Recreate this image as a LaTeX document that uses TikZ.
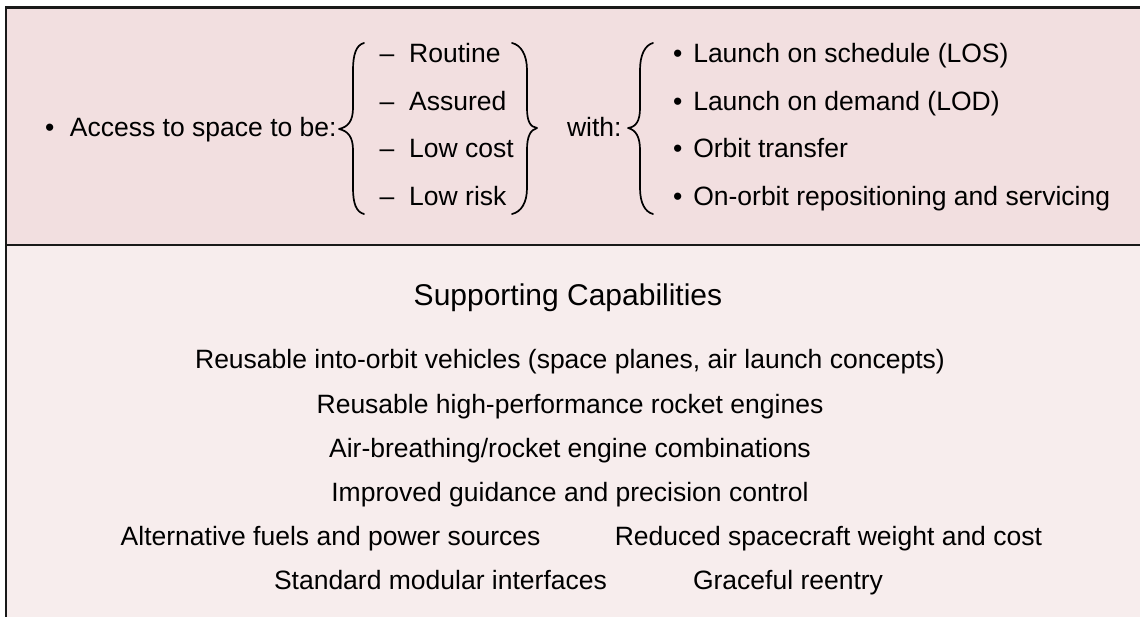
\documentclass[tikz,border=0pt]{standalone}
\usepackage{fontspec}
\setmainfont{Liberation Sans}
\definecolor{topband}{HTML}{F2DFE0}
\definecolor{lowband}{HTML}{F7EDED}
\tikzset{
  txt/.style={inner sep=0pt, outer sep=0pt, font=\fontsize{26.5}{30}\selectfont, text=black},
  lft/.style={txt, anchor=base west},
  ctr/.style={txt, anchor=base},
  heading/.style={inner sep=0pt, outer sep=0pt, anchor=base, font=\fontsize{30}{34}\selectfont},
  frame/.style={line width=2.2pt, draw=black!90},
  brace/.style={line width=1.7pt, draw=black, line cap=round, line join=round}
}
\begin{document}
\begin{tikzpicture}[x=1pt, y=-1pt]
\useasboundingbox (0,0) rectangle (1140,617);

% background bands
\fill[topband] (6,7.5) rectangle (1140,245);
\fill[lowband] (6,245) rectangle (1140,617);

% frame lines
\draw[frame] (6,617) -- (6,7.5) -- (1140,7.5);
\draw[frame] (6,245) -- (1140,245);

% upper band: goals
\node[lft] (access) at (45,137) {•\hspace{15.7pt}Access to space to be:};

\node[lft] (routine)  at (379.5,63)  {–\hspace{15pt}Routine};
\node[lft] (assured)  at (379.5,111) {–\hspace{15pt}Assured};
\node[lft] (lowcost)  at (379.5,158) {–\hspace{15pt}Low cost};
\node[lft] (lowrisk)  at (379.5,206) {–\hspace{15pt}Low risk};

\node[lft] (with) at (567,137) {with:};

\node[lft] (los)   at (673,63)  {•\hspace{11pt}Launch on schedule (LOS)};
\node[lft] (lod)   at (673,111) {•\hspace{11pt}Launch on demand (LOD)};
\node[lft] (otr)   at (673,158) {•\hspace{11pt}Orbit transfer};
\node[lft] (oorb)  at (673,206) {•\hspace{11pt}On-orbit repositioning and servicing};

% braces
\draw[brace] (364,43) .. controls (356,45) and (353,55) .. (353,70) -- (353,108)
  .. controls (353,121) and (348,127) .. (339,129)
  .. controls (348,131) and (353,137) .. (353,150) -- (353,188)
  .. controls (353,203) and (356,212) .. (364,214);
\draw[brace] (512,43) .. controls (521,45) and (527,55) .. (527,70) -- (527,108)
  .. controls (527,121) and (530,127) .. (537,128)
  .. controls (530,130) and (527,137) .. (527,150) -- (527,188)
  .. controls (527,203) and (521,212) .. (512,214);
\draw[brace] (653,43) .. controls (645,45) and (640,55) .. (640,70) -- (640,108)
  .. controls (640,121) and (636,127) .. (628,128)
  .. controls (636,130) and (640,137) .. (640,150) -- (640,188)
  .. controls (640,203) and (645,212) .. (653,214);

% lower band: supporting capabilities
\node[heading] (title) at (568,306) {Supporting Capabilities};
\node[ctr] (c1) at (570,369) {Reusable into-orbit vehicles (space planes, air launch concepts)};
\node[ctr] (c2) at (570,413) {Reusable high-performance rocket engines};
\node[ctr] (c3) at (570,457) {Air-breathing/rocket engine combinations};
\node[ctr] (c4) at (570,501) {Improved guidance and precision control};
\node[lft] (c5a) at (120.7,545) {Alternative fuels and power sources};
\node[txt, anchor=base east] (c5b) at (1042,545) {Reduced spacecraft weight and cost};
\node[lft] (c6a) at (274,589) {Standard modular interfaces};
\node[txt, anchor=base east] (c6b) at (883,589) {Graceful reentry};
\end{tikzpicture}
\end{document}
